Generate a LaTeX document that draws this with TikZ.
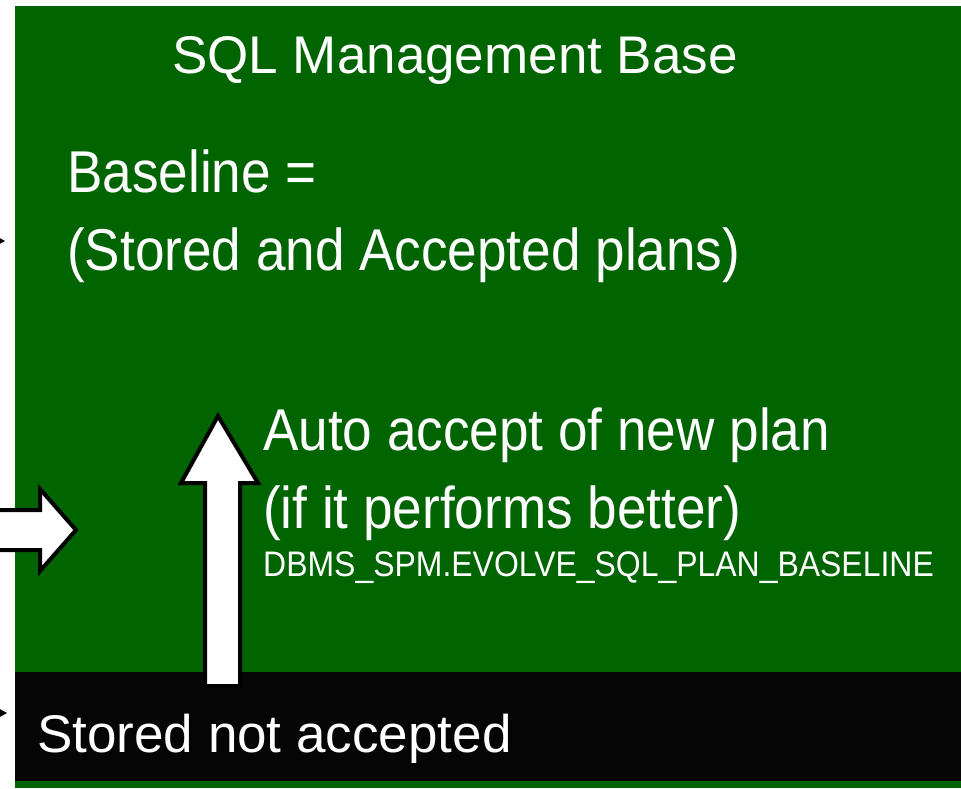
\documentclass[tikz,border=0pt]{standalone}
\usepackage{fontspec}
\setmainfont{Liberation Sans}
\newfontfamily\condensedsans[FakeStretch=0.9]{Liberation Sans}
\usetikzlibrary{arrows.meta}
\definecolor{mbgreen}{RGB}{0,100,0}
\definecolor{mbblack}{RGB}{5,5,5}
\tikzset{
  lbl/.style={text=white, inner sep=0pt, anchor=base west, font=\fontsize{53}{60}\selectfont},
  condlbl/.style={lbl, font=\condensedsans\fontsize{59}{66}\selectfont},
  smalllbl/.style={lbl, font=\condensedsans\fontsize{35.5}{40}\selectfont},
  blockarrow/.style={fill=white, draw=black, line width=4pt, line join=miter},
  tipconn/.style={draw=black, line width=1pt, -{Stealth[length=10pt,width=11pt]}}
}
\begin{document}
\begin{tikzpicture}[x=1pt,y=-1pt]
\useasboundingbox (0,0) rectangle (961,788);
\clip (0,0) rectangle (961,788);
% base panel
\fill[mbgreen] (15,6) rectangle (961,788);
\fill[mbblack] (15,672) rectangle (961,781);
% texts
\node[lbl] (title) at (172,73) {SQL Management Base};
\node[condlbl] (bl1) at (67,192) {Baseline =};
\node[condlbl] (bl2) at (67,270) {(Stored and Accepted plans)};
\node[condlbl] (au1) at (263,450) {Auto accept of new plan};
\node[condlbl] (au2) at (263,528) {(if it performs better)};
\node[smalllbl] (proc) at (263,576) {DBMS\_SPM.EVOLVE\_SQL\_PLAN\_BASELINE};
\node[lbl] (sna) at (37,752) {Stored not accepted};
% incoming connectors from the left
\coordinate (in1s) at (-40,241);
\coordinate (in1e) at (5,241);
\coordinate (in2s) at (-40,713);
\coordinate (in2e) at (7,713);
\draw[tipconn] (in1s) -- (in1e);
\draw[tipconn] (in2s) -- (in2e);
% block arrow from the left
\draw[blockarrow] (-10,510) -- (40,510) -- (40,489) -- (76,530) -- (40,571) -- (40,550) -- (-10,550) -- cycle;
% upward block arrow
\draw[blockarrow] (205,686) -- (205,483) -- (181,483) -- (218,416) -- (258,483) -- (240,483) -- (240,686) -- cycle;
\end{tikzpicture}
\end{document}
